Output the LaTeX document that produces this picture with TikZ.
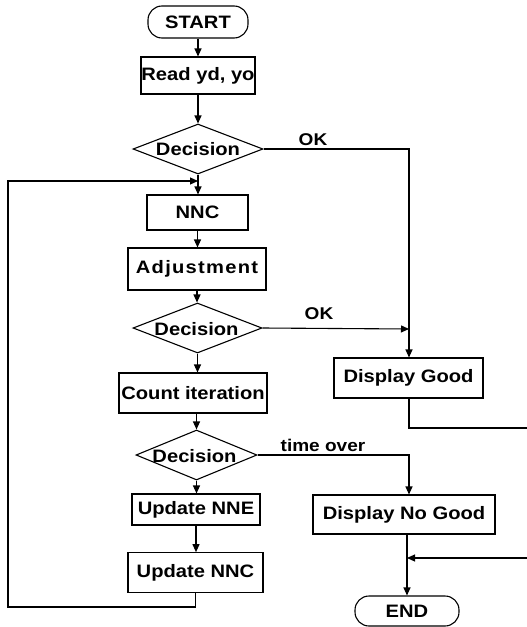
\documentclass[tikz,border=0pt]{standalone}
\usepackage{fontspec}
\setmainfont{Liberation Sans}[FakeStretch=1.12]
\usetikzlibrary{arrows.meta,shapes.geometric}
\begin{document}
\begin{tikzpicture}[x=1pt,y=1pt,
  every node/.style={font=\fontsize{18}{20}\selectfont\bfseries},
  box/.style={draw,line width=1.1pt,inner sep=0pt},
  term/.style={draw,line width=1.1pt,inner sep=0pt,rounded corners=14pt},
  dia/.style={draw,line width=1.1pt,diamond,inner sep=0pt},
  lbl/.style={font=\fontsize{17}{19}\selectfont\bfseries,inner sep=0pt},
  conn/.style={line width=1.1pt},
  arr/.style={line width=1.1pt,-{Triangle[length=8pt,width=7pt]}}]
\useasboundingbox (0,0) rectangle (527,-627);
% main column
\node[term,minimum width=100pt,minimum height=32pt] (start) at (198,-22) {START};
\node[box,minimum width=114pt,minimum height=37pt] (read) at (198,-75.5) {Read yd, yo};
\node[dia,minimum width=130pt,minimum height=50pt] (dec1) at (198,-149) {};
\node at (dec1) {Decision};
\node[box,minimum width=101pt,minimum height=35pt] (nnc) at (197.5,-212.5) {NNC};
\node[box,minimum width=138pt,minimum height=42pt] (adj) at (197,-269) {\addfontfeature{LetterSpace=7}Adjustment};
\node[dia,minimum width=129pt,minimum height=50pt] (dec2) at (197.5,-328) {};
\node at ([xshift=-1pt,yshift=-1pt]dec2) {Decision};
\node[box,minimum width=148pt,minimum height=40pt] (count) at (193,-393) {Count iteration};
\node[dia,minimum width=121pt,minimum height=50pt] (dec3) at (196.5,-455) {};
\node at ([xshift=-2pt,yshift=-1pt]dec3) {Decision};
\node[box,minimum width=128pt,minimum height=31pt] (nne) at (196,-509.5) {Update NNE};
\node[box,minimum width=135pt,minimum height=40pt] (nnc2) at (195.5,-572.7) {Update NNC};
% right column
\node[box,minimum width=149pt,minimum height=40pt] (good) at (408.5,-378) {Display Good};
\node[box,minimum width=182pt,minimum height=39pt] (nogood) at (404,-514.5) {Display No Good};
\node[term,minimum width=104pt,minimum height=30pt] (end) at (407,-611) {END};
% labels
\node[lbl] (ok1) at (313,-140) {OK};
\node[lbl] (ok2) at (319,-314) {OK};
\node[lbl] (tover) at (323,-445) {time over};
% coordinates
\coordinate (j1) at (198,-181);
\coordinate (lb) at (8,-607);
\coordinate (lt) at (8,-181);
\coordinate (j2) at (409,-329);
\coordinate (c1) at (409,-149);
\coordinate (c3) at (409,-455);
\coordinate (r1) at (540,-428);
\coordinate (r2) at (540,-558);
\coordinate (j3) at (407,-558);
% connectors main
\draw[arr] (start.south) -- (start.south |- read.north);
\draw[arr] (read.south) -- (read.south |- dec1.north);
\draw[arr] (dec1.south) -- (dec1.south |- nnc.north);
\draw[arr] (nnc.south) -- (nnc.south |- adj.north);
\draw[arr] (adj.south) -- (adj.south |- dec2.north);
\draw[arr] (dec2.south) -- (dec2.south |- count.north);
\draw[arr] (dec3.north |- count.south) -- (dec3.north);
\draw[arr] (dec3.south) -- (dec3.south |- nne.north);
\draw[arr] (nne.south) -- (nne.south |- nnc2.north);
% loop back
\draw[arr] (nnc2.south) |- (lb) -- (lt) -- (j1);
% OK branches
\draw[arr] (dec1.east) -- (c1) -- (c1 |- good.north);
\draw[arr] (dec2.east) -- (j2);
% time over
\draw[arr] (dec3.east) -- (c3) -- (c3 |- nogood.north);
\draw[arr] (end.north |- nogood.south) -- (end.north);
% good to end
\draw[arr] (c1 |- good.south) |- (r1) -- (r2) -- (j3);
\end{tikzpicture}
\end{document}
